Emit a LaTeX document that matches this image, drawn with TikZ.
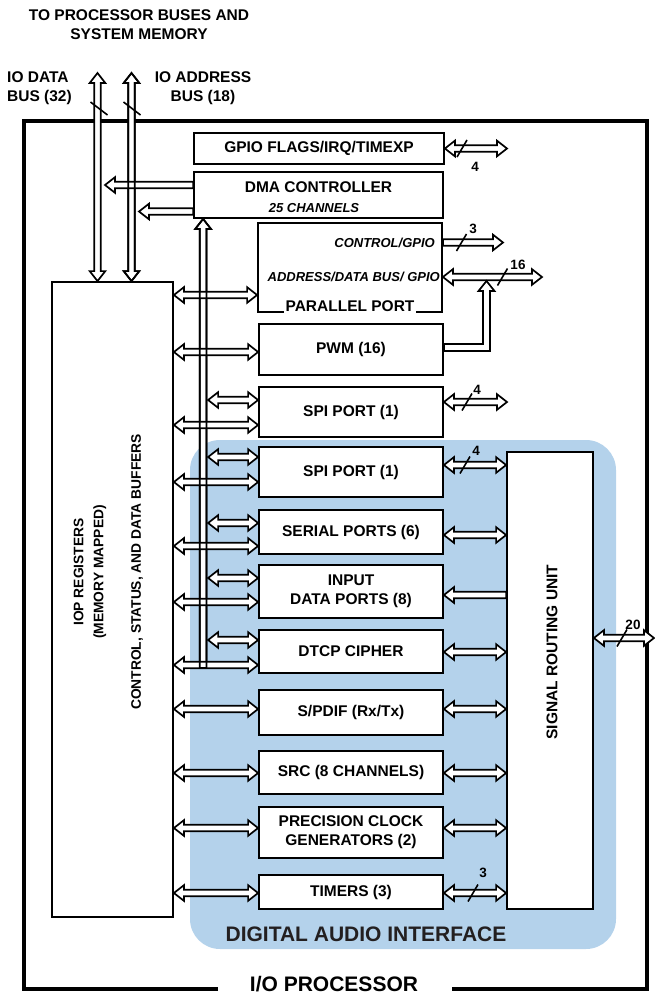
\documentclass[tikz,border=0pt]{standalone}
\usepackage{fontspec}
\setmainfont{Liberation Sans}
\usetikzlibrary{calc,positioning}

\definecolor{daiBlue}{RGB}{180,210,235}
\definecolor{daiInk} {RGB}{35,31,32}

\tikzset{
  blk/.style={draw,fill=white,line width=1.8pt,minimum width=184pt,inner sep=0pt,
              align=center,font=\fontsize{15.5}{19}\selectfont\bfseries},
  lbl/.style={inner sep=0pt,align=center,font=\fontsize{15.5}{19}\selectfont\bfseries},
  sub/.style={inner sep=0pt,font=\fontsize{13}{15}\selectfont\bfseries\itshape},
  num/.style={inner sep=0pt,font=\fontsize{13.5}{15}\selectfont\bfseries},
  big/.style={inner sep=0pt,text=daiInk,font=\fontsize{21}{24}\selectfont\bfseries},
  bus/.style={draw,fill=white,line width=1.7pt,line join=miter},
  slash/.style={line width=1.6pt},
  pics/tick/.style={code={\draw[slash] (-5,8.5) -- (5,-8.5);}},
}

% hollow bus arrows: \dbus heads at both ends, \sbus head at the second end only
\newcommand\dbus[3][]{%
  \path[bus,#1] #2 -- ($#2!10pt!#3!7.8pt!90:#3$) -- ($#2!10pt!#3!3.3pt!90:#3$)
    -- ($#3!10pt!#2!3.3pt!-90:#2$) -- ($#3!10pt!#2!7.8pt!-90:#2$) -- #3
    -- ($#3!10pt!#2!7.8pt!90:#2$) -- ($#3!10pt!#2!3.3pt!90:#2$)
    -- ($#2!10pt!#3!3.3pt!-90:#3$) -- ($#2!10pt!#3!7.8pt!-90:#3$) -- cycle;}
\newcommand\sbus[3][]{%
  \path[bus,#1] ($#2!3.3pt!90:#3$) -- ($#3!10pt!#2!3.3pt!-90:#2$)
    -- ($#3!10pt!#2!7.8pt!-90:#2$) -- #3 -- ($#3!10pt!#2!7.8pt!90:#2$)
    -- ($#3!10pt!#2!3.3pt!90:#2$) -- ($#2!3.3pt!-90:#3$) -- cycle;}

\begin{document}
\begin{tikzpicture}[x=1pt,y=-1pt]
  \useasboundingbox (0,0) rectangle (655,996);

  % digital audio interface area
  \fill[daiBlue,rounded corners=30pt] (190,440) rectangle (616,949);
  \node[big,anchor=base] (dailbl) at (366,941.5) {DIGITAL AUDIO INTERFACE};

  % I/O processor frame
  \node[big,text=black,anchor=base] (iolbl) at (334,991.5) {I/O PROCESSOR};
  \draw[line width=4pt,line join=miter] (218,989) -- (24,989) -- (24,121)
    -- (647,121) -- (647,989) -- (452,989);

  % titles
  \node[lbl] (title) at (139,25) {TO PROCESSOR BUSES AND\\SYSTEM MEMORY};
  \node[lbl,align=left,anchor=west] (dlbl) at (7,88.5) {IO DATA\\BUS (32)};
  \node[lbl] (albl) at (203,88.5) {IO ADDRESS\\BUS (18)};

  % blocks
  \node[blk,minimum width=250pt,minimum height=31pt] (gpio) at (319,148.5) {GPIO FLAGS/IRQ/TIMEXP};
  \node[blk,minimum width=249pt,minimum height=46pt] (dma) at (318.5,195) {};
  \node[lbl] (dmalbl) at (318.5,187.5) {DMA CONTROLLER};
  \node[sub] (dmach) at (314,208.5) {25 CHANNELS};
  \node[blk,minimum height=89pt] (par) at (350,267.5) {};
  \node[sub,anchor=east] (ctl) at (435,242.5) {CONTROL/GPIO};
  \node[sub,anchor=east] (adb) at (440,277) {ADDRESS/DATA BUS/ GPIO};
  \node[lbl,fill=white,anchor=base,inner xsep=2pt,inner ysep=3pt] (parlbl) at (350,311)
    {PARALLEL PORT};
  \foreach \id/\yc/\hgt/\title in {
      pwm/349.5/51/{PWM (16)},
      spia/412/50/{SPI PORT (1)},
      spib/472/50/{SPI PORT (1)},
      sport/532/44/{SERIAL PORTS (6)},
      idp/591.5/53/{INPUT\\DATA PORTS (8)},
      dtcp/651.5/43/{DTCP CIPHER},
      spdif/712.5/45/{S/PDIF (Rx/Tx)},
      src/772.5/43/{SRC (8 CHANNELS)},
      pcg/832.5/51/{PRECISION CLOCK\\GENERATORS (2)},
      tmr/892/34/{TIMERS (3)}}{
    \node[blk,minimum height=\hgt pt] (\id) at (351,\yc) {\title};
  }

  \node[draw,line width=1.8pt,minimum width=121pt,minimum height=635pt] (iop) at (112.5,599.5) {};
  \node[lbl,rotate=90,font=\fontsize{13.8}{20}\selectfont\bfseries] (ioplbl) at (90,572)
    {IOP REGISTERS\\(MEMORY MAPPED)};
  \node[lbl,rotate=90,font=\fontsize{13.8}{20}\selectfont\bfseries] (iopbuf) at (137,572)
    {CONTROL, STATUS, AND DATA BUFFERS};
  \node[draw,fill=white,line width=1.8pt,minimum width=86pt,minimum height=457pt] (sru) at (550,680.5) {};
  \node[lbl,rotate=90] (srulbl) at (552,652) {SIGNAL ROUTING UNIT};

  % buses to processor and memory
  \coordinate (dbus) at (97.5,73);
  \coordinate (abus) at (131.5,73);
  \dbus{(dbus)}{(iop.north-|dbus)}
  \dbus{(abus)}{(iop.north-|abus)}
  \draw[slash] (90.5,102) -- ++(17,13);
  \draw[slash] (123.5,102) -- ++(17,13);

  % DMA to IOP
  \coordinate (dtip) at (105,185);
  \coordinate (atip) at (139,211.5);
  \sbus{(dma.west|-dtip)}{(dtip)}
  \sbus{(dma.west|-atip)}{(atip)}
  \dbus[fill=none]{(abus)}{(iop.north-|abus)}

  % DMA bus down the peripherals
  \coordinate (vbtop) at ([xshift=10pt]dma.south west);
  \coordinate (vbbot) at (vbtop|-0,668);
  \coordinate (vbr) at ([xshift=5pt]vbtop);
  \sbus{(vbbot)}{(vbtop)}
  \foreach \id/\yb in {par/295,pwm/352,spia/425,spib/482,sport/546,idp/602,
                       dtcp/665,spdif/709,src/773,pcg/828,tmr/893}{
    \dbus{(iop.east|-0,\yb)}{(\id.west|-0,\yb)}
  }
  \foreach \id/\ya in {spia/400,spib/457,sport/523,idp/578,dtcp/640}{
    \dbus{(vbr|-0,\ya)}{(\id.west|-0,\ya)}
  }
  \sbus[fill=none]{(vbbot)}{(vbtop)}

  % outputs on the right
  \coordinate (gpioR) at (507,148.5);
  \coordinate (ctlR) at (503,242.5);
  \coordinate (adbR) at (542,277);
  \coordinate (spiR) at (507,402);
  \coordinate (outR) at (654,638);
  \dbus{(gpio.east)}{(gpioR)}
  \sbus{(par.east|-ctlR)}{(ctlR)}
  \dbus{(par.east|-adbR)}{(adbR)}
  \coordinate (tee) at (486.5,281);
  \path[bus] (pwm.east|-0,344) -- (483,344) -- (483,291) -- (478.5,291) -- (tee)
    -- (494.5,291) -- (490,291) -- (490,351) -- (pwm.east|-0,351) -- cycle;
  \dbus{(spia.east|-spiR)}{(spiR)}
  \foreach \id/\yr in {spib/465,sport/535,dtcp/652,spdif/709,src/773,pcg/828,tmr/893}{
    \dbus{(\id.east|-0,\yr)}{(sru.west|-0,\yr)}
  }
  \sbus{(sru.west|-0,595)}{(idp.east|-0,595)}
  \dbus{(sru.east|-outR)}{(outR)}

  % bus widths
  \path (462,148.5) pic {tick};
  \node[num] (w4a) at (475,167) {4};
  \path (461.5,242.5) pic {tick};
  \node[num] (w3a) at (473,229) {3};
  \path (502.5,277) pic {tick};
  \node[num] (w16) at (518,264.5) {16};
  \path (467,402) pic {tick};
  \node[num] (w4b) at (477,389.5) {4};
  \path (465,465) pic {tick};
  \node[num] (w4c) at (476,451) {4};
  \path (473,893) pic {tick};
  \node[num] (w3b) at (483,873) {3};
  \path (622,638) pic {tick};
  \node[num] (w20) at (633,625) {20};
\end{tikzpicture}
\end{document}
